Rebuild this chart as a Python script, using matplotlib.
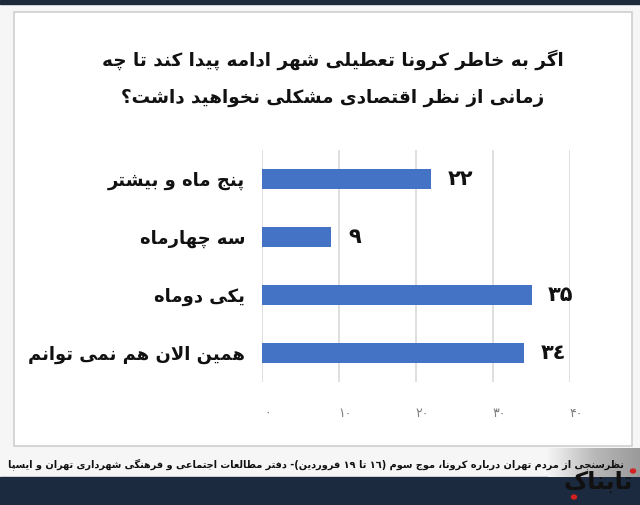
# -*- coding: utf-8 -*-
import numpy as np
import matplotlib.pyplot as plt
from matplotlib.patches import Rectangle, Circle
from matplotlib.transforms import ScaledTranslation
from matplotlib.colors import LinearSegmentedColormap

# %% Data ---------------------------------------------------------------------
title_lines = ['اگر به خاطر کرونا تعطیلی شهر ادامه پیدا کند تا چه',
               'زمانی از نظر اقتصادی مشکلی نخواهید داشت؟']
categories = ['پنج ماه و بیشتر', 'سه چهارماه', 'یکی دوماه', 'همین الان هم نمی توانم']
values = [22, 9, 35, 34]
value_labels = ['۲۲', '۹', '۳۵', '۳٤']
xticks = [0, 10, 20, 30, 40]
xtick_labels = ['۰', '۱۰', '۲۰', '۳۰', '۴۰']
footer = ('نظرسنجی از مردم تهران درباره کرونا، موج سوم (١٦ تا ١٩ فروردین)- '
          'دفتر مطالعات اجتماعی و فرهنگی شهرداری تهران و ایسپا')
logo = 'تابناک'


# %% Minimal Arabic/Persian shaping (matplotlib has no text shaping) -----------
FORMS = {  # isolated, final, initial, medial
    'ء': (0xFE80,), 'آ': (0xFE81, 0xFE82), 'أ': (0xFE83, 0xFE84),
    'ؤ': (0xFE85, 0xFE86), 'إ': (0xFE87, 0xFE88),
    'ئ': (0xFE89, 0xFE8A, 0xFE8B, 0xFE8C), 'ا': (0xFE8D, 0xFE8E),
    'ب': (0xFE8F, 0xFE90, 0xFE91, 0xFE92), 'ة': (0xFE93, 0xFE94),
    'ت': (0xFE95, 0xFE96, 0xFE97, 0xFE98), 'ث': (0xFE99, 0xFE9A, 0xFE9B, 0xFE9C),
    'ج': (0xFE9D, 0xFE9E, 0xFE9F, 0xFEA0), 'ح': (0xFEA1, 0xFEA2, 0xFEA3, 0xFEA4),
    'خ': (0xFEA5, 0xFEA6, 0xFEA7, 0xFEA8), 'د': (0xFEA9, 0xFEAA),
    'ذ': (0xFEAB, 0xFEAC), 'ر': (0xFEAD, 0xFEAE), 'ز': (0xFEAF, 0xFEB0),
    'س': (0xFEB1, 0xFEB2, 0xFEB3, 0xFEB4), 'ش': (0xFEB5, 0xFEB6, 0xFEB7, 0xFEB8),
    'ص': (0xFEB9, 0xFEBA, 0xFEBB, 0xFEBC), 'ض': (0xFEBD, 0xFEBE, 0xFEBF, 0xFEC0),
    'ط': (0xFEC1, 0xFEC2, 0xFEC3, 0xFEC4), 'ظ': (0xFEC5, 0xFEC6, 0xFEC7, 0xFEC8),
    'ع': (0xFEC9, 0xFECA, 0xFECB, 0xFECC), 'غ': (0xFECD, 0xFECE, 0xFECF, 0xFED0),
    'ف': (0xFED1, 0xFED2, 0xFED3, 0xFED4), 'ق': (0xFED5, 0xFED6, 0xFED7, 0xFED8),
    'ك': (0xFED9, 0xFEDA, 0xFEDB, 0xFEDC), 'ل': (0xFEDD, 0xFEDE, 0xFEDF, 0xFEE0),
    'م': (0xFEE1, 0xFEE2, 0xFEE3, 0xFEE4), 'ن': (0xFEE5, 0xFEE6, 0xFEE7, 0xFEE8),
    'ه': (0xFEE9, 0xFEEA, 0xFEEB, 0xFEEC), 'و': (0xFEED, 0xFEEE),
    'ى': (0xFEEF, 0xFEF0), 'ي': (0xFEF1, 0xFEF2, 0xFEF3, 0xFEF4),
    'پ': (0xFB56, 0xFB57, 0xFB58, 0xFB59), 'چ': (0xFB7A, 0xFB7B, 0xFB7C, 0xFB7D),
    'ژ': (0xFB8A, 0xFB8B), 'ک': (0xFB8E, 0xFB8F, 0xFB90, 0xFB91),
    'گ': (0xFB92, 0xFB93, 0xFB94, 0xFB95), 'ی': (0xFBFC, 0xFBFD, 0xFBFE, 0xFBFF),
}
LAM_ALEF = {'ا': (0xFEFB, 0xFEFC), 'آ': (0xFEF5, 0xFEF6)}
DIGITS = set('0123456789٠١٢٣٤٥٦٧٨٩۰۱۲۳۴۵۶۷۸۹')
MIRROR = {'(': ')', ')': '('}


def shape(s):
    out = []
    i = 0
    while i < len(s):
        c = s[i]
        prev = s[i - 1] if i > 0 else ''
        joins_prev = prev in FORMS and len(FORMS[prev]) == 4
        if c == 'ل' and i + 1 < len(s) and s[i + 1] in LAM_ALEF:
            out.append(chr(LAM_ALEF[s[i + 1]][1 if joins_prev else 0]))
            i += 2
            continue
        if c in FORMS:
            f = FORMS[c]
            nxt = s[i + 1] if i + 1 < len(s) else ''
            joins_next = nxt in FORMS and len(f) == 4
            if joins_prev and joins_next:
                out.append(chr(f[3]))
            elif joins_prev and len(f) > 1:
                out.append(chr(f[1]))
            elif joins_next:
                out.append(chr(f[2]))
            else:
                out.append(chr(f[0]))
        else:
            out.append(c)
        i += 1
    # visual order: reverse, but keep digit runs left-to-right
    runs, cur, cur_digit = [], '', None
    for ch in out:
        d = ch in DIGITS
        if cur and d != cur_digit:
            runs.append((cur, cur_digit))
            cur = ''
        cur += ch
        cur_digit = d
    if cur:
        runs.append((cur, cur_digit))
    vis = ''
    for txt, d in reversed(runs):
        vis += txt if d else ''.join(MIRROR.get(ch, ch) for ch in reversed(txt))
    return vis


# %% Figure -------------------------------------------------------------------
W, H = 640, 505
plt.rcParams['font.family'] = ['DejaVu Sans']
fig = plt.figure(figsize=(W/100, H/100), dpi=100)
fig.patch.set_facecolor('#f6f6f6')


def px(x, y):
    return x/W, 1 - y/H


# frame pieces in pixel coords (behind the axes)
fig.patches.append(Rectangle(px(0, 4), 1, 4/H, transform=fig.transFigure,
                             color='#1d2a3b', zorder=-2))
fig.patches.append(Rectangle(px(14, 446), 618/W, 434/H, transform=fig.transFigure,
                             facecolor='white', edgecolor='#cfcfcf', lw=1.2,
                             zorder=-2))
fig.patches.append(Rectangle(px(0, 505), 1, 28/H, transform=fig.transFigure,
                             color='#1b2a3e', zorder=-2))

# gray gradient band behind the logo
band = fig.add_axes([548/W, 1 - 477/H, 92/W, 29/H], zorder=-1)
grad = LinearSegmentedColormap.from_list('band', ['#f4f4f4', '#b9b9b9', '#9a9a9a'])
band.imshow(np.linspace(0, 1, 64)[None, :], cmap=grad, aspect='auto')
band.axis('off')

# title
for k, line in enumerate(title_lines):
    fig.text(*px(333, 60 + 38*k), shape(line), ha='center', va='center',
             fontsize=13.2, fontweight='bold', color='#111111')

# bar axes
ax = fig.add_axes([262/W, 1 - 382/H, 308/W, 232/H])
ax.set_facecolor('none')
y = np.arange(len(categories))
ax.barh(y, values, height=0.345, color='#4472c4', zorder=2)
ax.set_xlim(0, 40)
ax.set_ylim(len(categories) - 0.5, -0.5)
ax.set_xticks(xticks)
ax.set_xticklabels(xtick_labels, fontsize=9, color='#7f7f7f')
ax.set_yticks(y)
ax.set_yticklabels([shape(c) for c in categories], fontsize=13,
                   fontweight='bold', color='#111111')
ax.tick_params(axis='x', length=0, pad=18)
ax.tick_params(axis='y', length=0, pad=12)
ax.grid(axis='x', color='#d9d9d9', lw=1.2, zorder=0)
for s in ax.spines.values():
    s.set_visible(False)
# tick numbers sit a little to the right of their gridlines
shift = ScaledTranslation(6/100, 0, fig.dpi_scale_trans)
for lab in ax.get_xticklabels():
    lab.set_transform(lab.get_transform() + shift)

for yi, v, lab in zip(y, values, value_labels):
    ax.annotate(lab, (v, yi), xytext=(12, 0), textcoords='offset points',
                ha='left', va='center', fontsize=15, fontweight='bold',
                color='#111111')

# footer
fig.text(*px(8, 464), shape(footer), ha='left', va='center', fontsize=7.0,
         fontweight='bold', color='#111111')

# logo
fig.text(*px(598, 482), shape(logo), ha='center', va='center', fontsize=17,
         fontweight='bold', color='#111111')
fig.patches.append(Circle(px(574, 497), 2.5/W, transform=fig.transFigure,
                          color='#d42020'))
fig.patches.append(Circle(px(633, 471), 2.5/W, transform=fig.transFigure,
                          color='#d42020'))

fig.savefig('out.png', dpi=100, facecolor=fig.get_facecolor())
